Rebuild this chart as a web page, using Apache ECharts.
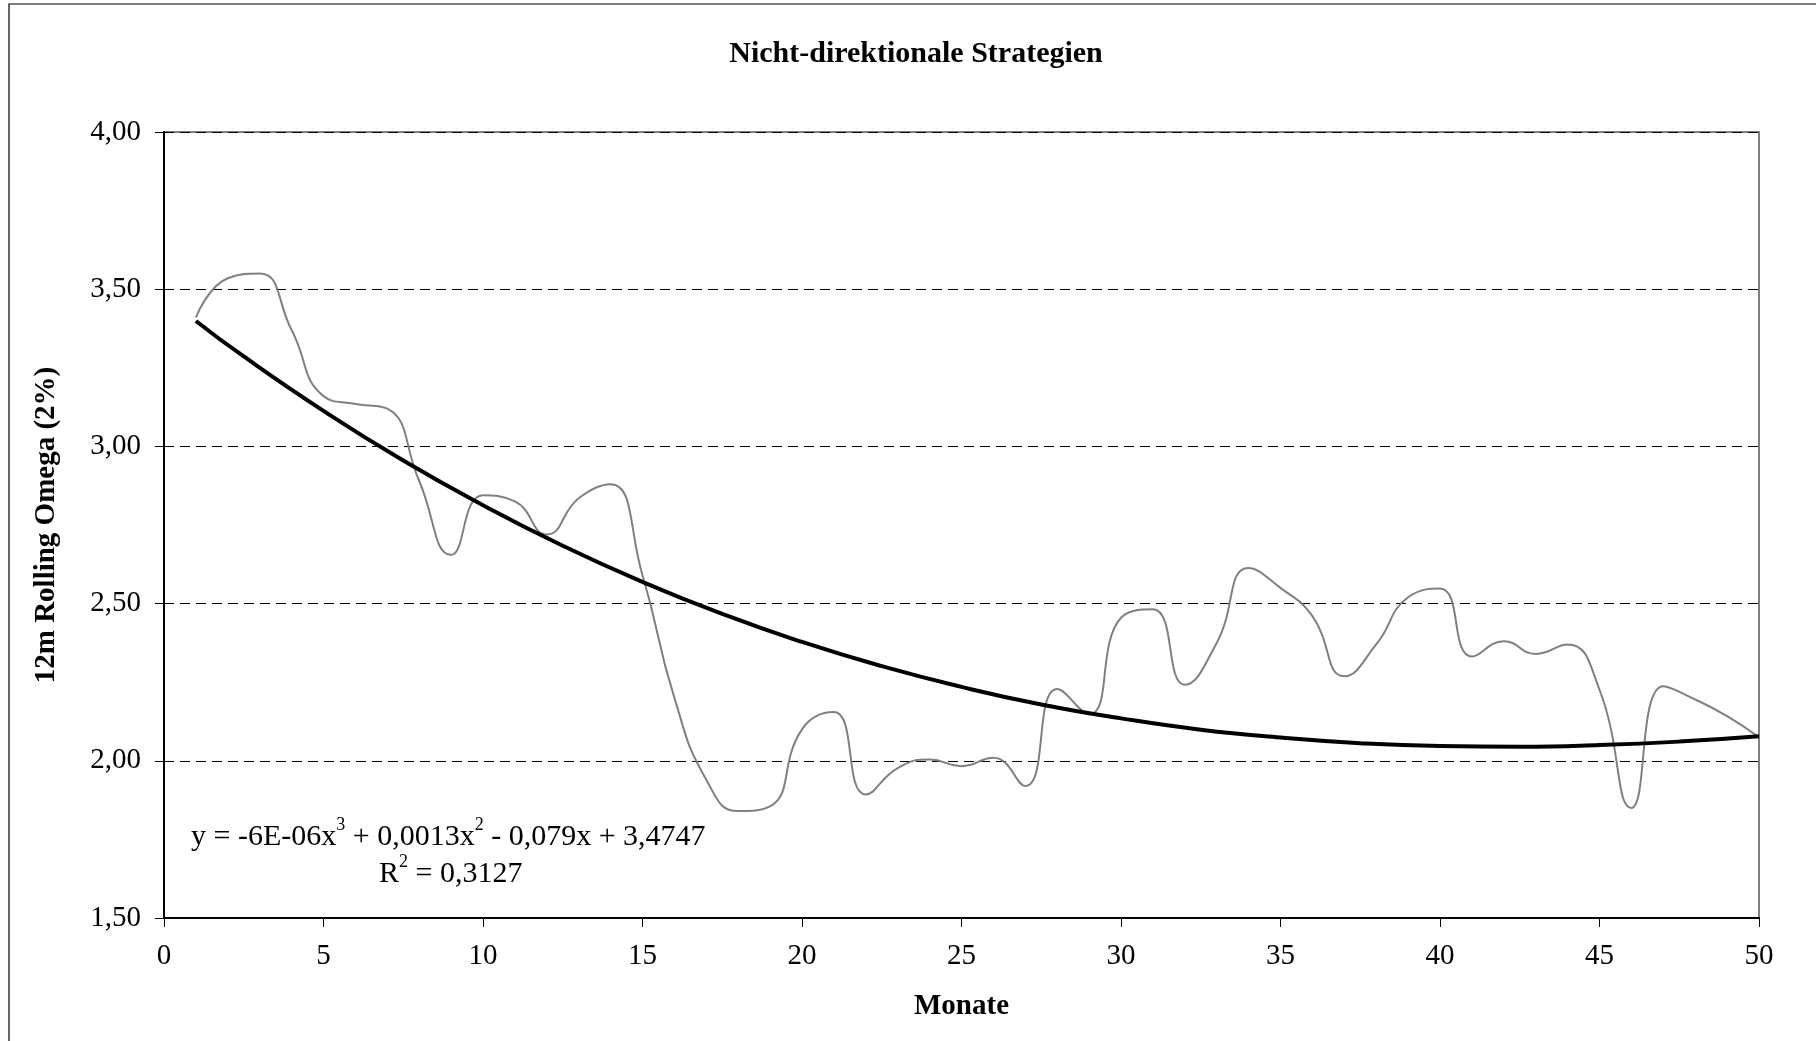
<!DOCTYPE html>
<html>
<head>
<meta charset="utf-8">
<script src="https://cdn.jsdelivr.net/npm/echarts@6/dist/echarts.min.js"></script>
<style>
html,body{margin:0;padding:0;background:#fff;}
#chart{width:1816px;height:1041px;}
</style>
</head>
<body>
<div id="chart"></div>
<script>
// Months 1..50
const months = [1,2,3,4,5,6,7,8,9,10,11,12,13,14,15,16,17,18,19,20,21,22,23,24,25,26,27,28,29,30,31,32,33,34,35,36,37,38,39,40,41,42,43,44,45,46,47,48,49,50];
// 12m Rolling Omega (2%)
const omega = [3.41,3.535,3.55,3.37,3.16,3.135,3.12,2.89,2.655,2.845,2.825,2.72,2.835,2.88,2.59,2.2,1.94,1.84,1.855,2.1,2.155,1.893,1.977,2.004,1.983,2.01,1.92,2.228,2.148,2.455,2.482,2.242,2.375,2.613,2.55,2.46,2.269,2.37,2.52,2.548,2.332,2.38,2.34,2.37,2.226,1.85,2.237,2.195,2.142,2.075];
// Polynomial trend line (order 3)
const trendX = [1,2.5,5,7.5,10,12.5,15,17.5,20,22.5,25,27.5,30,32.5,35,37.5,40,42.5,45,47.5,50];
const trendY = [3.399,3.286,3.113,2.955,2.813,2.684,2.569,2.467,2.378,2.301,2.235,2.179,2.135,2.099,2.074,2.056,2.047,2.045,2.050,2.061,2.078];
const xTicks = [0,5,10,15,20,25,30,35,40,45,50];
const yTicks = ['1,50','2,00','2,50','3,00','3,50','4,00'];
const titleText = 'Nicht-direktionale Strategien';
const xName = 'Monate';
const yName = '12m Rolling Omega (2%)';
const eqLine1 = '{n|y = -6E-06x}{s|3}{n| + 0,0013x}{s|2}{n| - 0,079x + 3,4747}';
const eqLine2 = '{n|R}{s|2}{n| = 0,3127}';

const chart = echarts.init(document.getElementById('chart'));
const serif = '"Liberation Serif", "Times New Roman", serif';
const eqRich = {
  n: { fontFamily: serif, fontSize: 30, color: '#000', lineHeight: 38, verticalAlign: 'bottom' },
  s: { fontFamily: serif, fontSize: 18, color: '#000', lineHeight: 38, verticalAlign: 'top', padding: [2, 0, 0, 0] }
};
chart.setOption({
  backgroundColor: '#fff',
  animation: false,
  title: {
    text: titleText,
    left: 911, top: 34, textAlign: 'center',
    textStyle: { fontFamily: serif, fontWeight: 'bold', fontSize: 30, color: '#000' }
  },
  grid: { left: 164, right: 57, top: 132, bottom: 123, show: true, borderColor: '#808080', borderWidth: 2, backgroundColor: 'transparent' },
  xAxis: {
    type: 'value', min: 0, max: 50, interval: 5,
    name: xName, nameLocation: 'middle', nameGap: 74,
    nameTextStyle: { fontFamily: serif, fontWeight: 'bold', fontSize: 29, color: '#000' },
    axisLine: { show: true, lineStyle: { color: '#000', width: 2 } },
    axisTick: { show: true, length: 9, lineStyle: { color: '#000', width: 1 } },
    axisLabel: { margin: 24, fontFamily: serif, fontSize: 29, color: '#000', formatter: v => String(xTicks[xTicks.indexOf(v)]) },
    splitLine: { show: false }
  },
  yAxis: {
    type: 'value', min: 1.5, max: 4, interval: 0.5,
    name: yName, nameLocation: 'middle', nameGap: 103, nameRotate: 90,
    nameTextStyle: { fontFamily: serif, fontWeight: 'bold', fontSize: 29, color: '#000' },
    axisLine: { show: true, lineStyle: { color: '#000', width: 2 } },
    axisTick: { show: true, length: 9, lineStyle: { color: '#000', width: 1 } },
    axisLabel: { margin: 23, fontFamily: serif, fontSize: 29, color: '#000', formatter: v => yTicks[Math.round((v - 1.5) / 0.5)] },
    splitLine: { show: true, lineStyle: { color: '#000', width: 1, type: [10, 6] } }
  },
  series: [
    {
      type: 'line', data: months.map((m, i) => [m, omega[i]]), smooth: 0.5,
      showSymbol: false, lineStyle: { color: '#808080', width: 2 }, z: 2
    },
    {
      type: 'line', data: trendX.map((x, i) => [x, trendY[i]]), smooth: true,
      showSymbol: false, lineStyle: { color: '#000', width: 4 }, z: 3
    }
  ],
  graphic: [
    { type: 'rect', shape: { x: 9, y: 4, width: 1900, height: 1100 }, style: { fill: 'none', stroke: '#000', lineWidth: 1.2 }, silent: true },
    { type: 'text', left: 191, top: 814, style: { text: eqLine1, rich: eqRich } },
    { type: 'text', left: 379, top: 851, style: { text: eqLine2, rich: eqRich } }
  ]
});
</script>
</body>
</html>
